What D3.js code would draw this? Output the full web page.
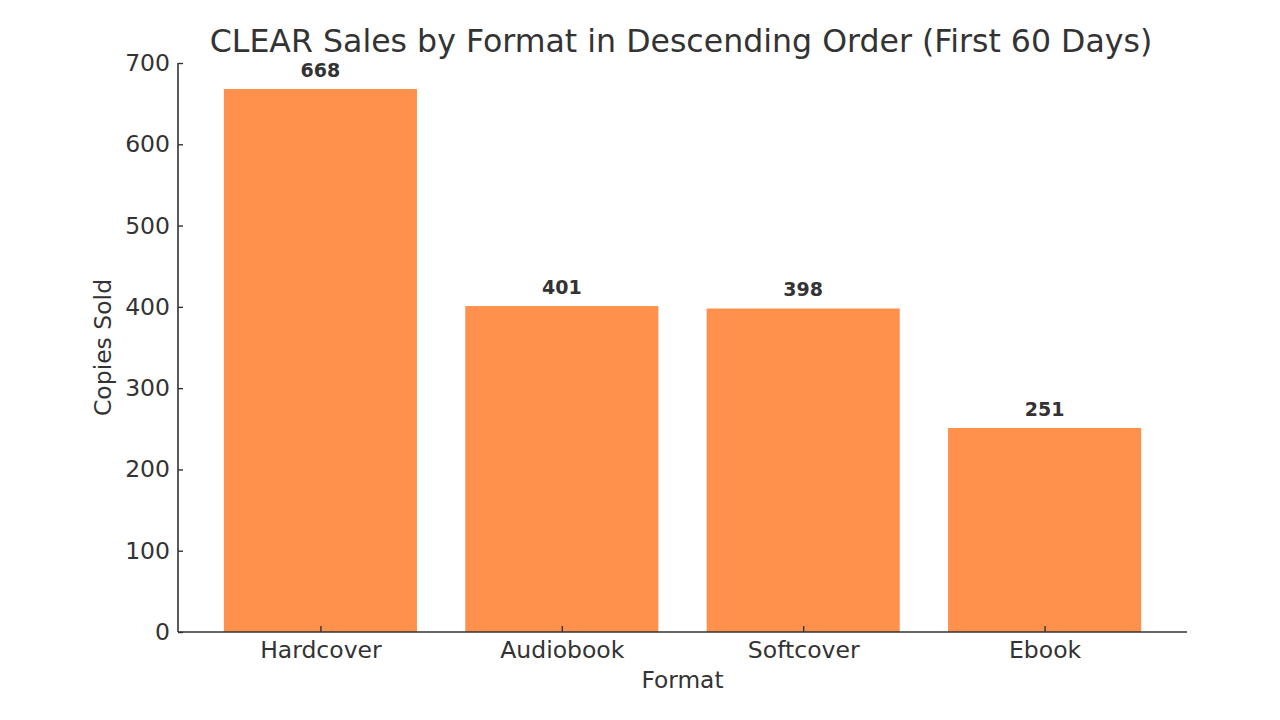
<!DOCTYPE html>
<html><head><meta charset="utf-8">
<script src="https://cdn.jsdelivr.net/npm/d3@7"></script>
<style>body{margin:0;background:#fff}svg{display:block}text{font-family:"DejaVu Sans",sans-serif;fill:#333}</style>
</head><body><svg id="c" width="1280" height="720"></svg>
<script>
const categories = ["Hardcover", "Audiobook", "Softcover", "Ebook"];
const values = [668, 401, 398, 251];
const yTicks = [0, 100, 200, 300, 400, 500, 600, 700];
const title = "CLEAR Sales by Format in Descending Order (First 60 Days)";
const xLabel = "Format";
const yLabel = "Copies Sold";

const svg = d3.select("#c");
const L = 178, R = 1187, T = 63, B = 632;
const x = d3.scaleLinear().domain([-0.59, categories.length - 1 + 0.59]).range([L, R]);
const y = d3.scaleLinear().domain([0, 700]).range([B, T]);
const bw = x(0.4) - x(-0.4);

svg.append("g").selectAll("rect").data(values).join("rect")
  .attr("x", (d, i) => x(i) - bw / 2).attr("width", bw)
  .attr("y", d => y(d)).attr("height", d => y(0) - y(d))
  .attr("fill", "#FF914D");

svg.append("g").selectAll("text").data(values).join("text")
  .attr("x", (d, i) => x(i)).attr("y", d => y(d) - 12)
  .attr("text-anchor", "middle").attr("font-size", 19).attr("font-weight", "bold")
  .text(d => d);

const yAxis = d3.axisLeft(y).tickValues(yTicks).tickSizeInner(-5).tickSizeOuter(0).tickPadding(8);
const gy = svg.append("g").attr("transform", `translate(${L},0)`).call(yAxis);
const xAxis = d3.axisBottom(x).tickValues(d3.range(categories.length)).tickFormat(i => categories[i])
  .tickSizeInner(-6).tickSizeOuter(0).tickPadding(9);
const gx = svg.append("g").attr("transform", `translate(0,${B})`).call(xAxis);
[gx, gy].forEach(g => {
  g.select(".domain").attr("stroke", "#333").attr("stroke-width", 1.6);
  g.selectAll(".tick line").attr("stroke", "#333").attr("stroke-width", 1.4);
  g.selectAll(".tick text").attr("font-size", 23.5).attr("fill", "#333").attr("font-family", "DejaVu Sans, sans-serif");
});
gx.select(".domain").attr("d", `M${L},0H${R}`);
gy.select(".domain").attr("d", `M0,${B}V${T}`);

svg.append("text").attr("x", 681).attr("y", 52).attr("text-anchor", "middle").attr("font-size", 31.6).text(title);
svg.append("text").attr("x", (L + R) / 2).attr("y", 688).attr("text-anchor", "middle").attr("font-size", 23.3).text(xLabel);
svg.append("text").attr("transform", `translate(111,${(T + B) / 2}) rotate(-90)`).attr("text-anchor", "middle").attr("font-size", 23.5).text(yLabel);
</script></body></html>
